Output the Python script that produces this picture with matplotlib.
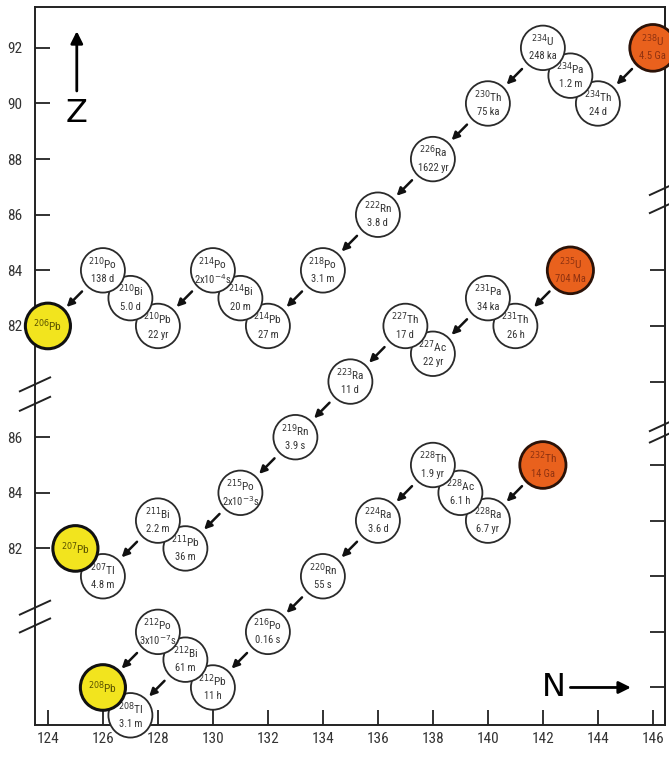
import numpy as np
import matplotlib
matplotlib.use('Agg')
import matplotlib.pyplot as plt
from matplotlib.patches import Circle

plt.rcParams['font.family'] = ['Liberation Sans Narrow', 'Roboto Condensed', 'Roboto', 'DejaVu Sans']

# U-238 chain (parent first, stable end member last)
u8_mass = [238, 234, 234, 234, 230, 226, 222, 218, 214, 214, 214, 210, 210, 210, 206]
u8_sym = ['U', 'Th', 'Pa', 'U', 'Th', 'Ra', 'Rn', 'Po', 'Pb', 'Bi', 'Po', 'Pb', 'Bi', 'Po', 'Pb']
u8_Z = [92, 90, 91, 92, 90, 88, 86, 84, 82, 83, 84, 82, 83, 84, 82]
u8_half = ['4.5 Ga', '24 d', '1.2 m', '248 ka', '75 ka', '1622 yr', '3.8 d', '3.1 m',
           '27 m', '20 m', r'2x10$^{-4}$s', '22 yr', '5.0 d', '138 d', '']
u8_alpha = [(238, 92), (234, 92), (230, 90), (226, 88), (222, 86), (218, 84), (214, 84), (210, 84)]

# U-235 chain
u5_mass = [235, 231, 231, 227, 227, 223, 219, 215, 211, 211, 207, 207]
u5_sym = ['U', 'Th', 'Pa', 'Ac', 'Th', 'Ra', 'Rn', 'Po', 'Pb', 'Bi', 'Tl', 'Pb']
u5_Z = [92, 90, 91, 89, 90, 88, 86, 84, 82, 83, 81, 82]
u5_half = ['704 Ma', '26 h', '34 ka', '22 yr', '17 d', '11 d', '3.9 s', r'2x10$^{-3}$s',
           '36 m', '2.2 m', '4.8 m', '']
u5_alpha = [(235, 92), (231, 91), (227, 90), (223, 88), (219, 86), (215, 84), (211, 83)]

# Th-232 chain
th_mass = [232, 228, 228, 228, 224, 220, 216, 212, 212, 212, 208, 208]
th_sym = ['Th', 'Ra', 'Ac', 'Th', 'Ra', 'Rn', 'Po', 'Pb', 'Bi', 'Po', 'Tl', 'Pb']
th_Z = [90, 88, 89, 90, 88, 86, 84, 82, 83, 84, 81, 82]
th_half = ['14 Ga', '6.7 yr', '6.1 h', '1.9 yr', '3.6 d', '55 s', '0.16 s', '11 h',
           '61 m', r'3x10$^{-7}$s', '3.1 m', '']
th_alpha = [(232, 90), (228, 90), (224, 88), (220, 86), (216, 84), (212, 84), (212, 83)]

# vertical shift of each chain in the stacked plot (in Z units)
shift = [0, 8, 13]

ytick_pos = [92, 90, 88, 86, 84, 82, 78, 76, 74]
ytick_lab = ['92', '90', '88', '86', '84', '82', '86', '84', '82']
right_ticks = [84, 82, 80, 77, 75, 73, 71, 69]

fig = plt.figure(figsize=(6.69, 7.58), dpi=100)
ax = fig.add_axes([0.0523, 0.0435, 0.9417, 0.9473])
ax.set_xlim(123.53, 146.44)
ax.set_ylim(67.65, 93.47)

chains = [(u8_mass, u8_sym, u8_Z, u8_half, u8_alpha),
          (u5_mass, u5_sym, u5_Z, u5_half, u5_alpha),
          (th_mass, th_sym, th_Z, th_half, th_alpha)]

for (mass, sym, Z, half, alpha), off in zip(chains, shift):
    N = np.array(mass) - np.array(Z)
    Y = np.array(Z) - off
    last = len(mass) - 1
    for i in np.argsort(-N, kind='stable'):
        if i == 0:
            fc, ec, lw, r, tc = '#E9611D', '#2b1208', 2.0, 0.84, '#8f3210'
        elif i == last:
            fc, ec, lw, r, tc = '#F2E41E', '#111111', 2.2, 0.82, '#5a5200'
        else:
            fc, ec, lw, r, tc = 'white', '#2a2a2a', 1.3, 0.80, '#333333'
        z = 4 + (150 - N[i]) * 0.01 + i * 0.0001
        ax.add_patch(Circle((N[i], Y[i]), r, facecolor=fc, edgecolor=ec, lw=lw,
                            zorder=z, clip_on=False))
        lab = r'$^{%d}$%s' % (mass[i], sym[i])
        if half[i]:
            ax.text(N[i], Y[i] + 0.25, lab, ha='center', va='center', fontsize=8.2,
                    color=tc, zorder=z + 0.001, clip_on=False)
            ax.text(N[i], Y[i] - 0.31, half[i], ha='center', va='center', fontsize=7.6,
                    color=tc, zorder=z + 0.001, clip_on=False)
        else:
            ax.text(N[i], Y[i], lab, ha='center', va='center', fontsize=8.2,
                    color=tc, zorder=z + 0.001, clip_on=False)
    for m, zp in alpha:
        n0, y0 = m - zp, zp - off
        ax.annotate('', xy=(n0 - 2 + 0.68, y0 - 2 + 0.68), xytext=(n0 - 0.76, y0 - 0.76),
                    arrowprops=dict(arrowstyle='-|>', color='#111111', lw=1.8,
                                    mutation_scale=11, shrinkA=0, shrinkB=0),
                    annotation_clip=False, zorder=6)

# axis breaks
for xc, yc in [(123.53, 79.9), (123.53, 79.2), (123.53, 71.87), (123.53, 71.23),
               (146.44, 86.96), (146.44, 86.31), (146.44, 78.47), (146.44, 78.06)]:
    ax.plot([xc - 0.55, xc + 0.55], [yc - 0.25, yc + 0.25], color='#222222', lw=1.4,
            clip_on=False, zorder=7)

# Z and N direction arrows
ax.annotate('', xy=(125.05, 92.6), xytext=(125.05, 90.45),
            arrowprops=dict(arrowstyle='-|>', color='black', lw=2, mutation_scale=18,
                            shrinkA=0, shrinkB=0))
ax.text(125.05, 89.65, 'Z', ha='center', va='center', fontsize=23, family='DejaVu Sans')
ax.text(142.4, 69.0, 'N', ha='center', va='center', fontsize=23, family='DejaVu Sans')
ax.annotate('', xy=(145.2, 69.0), xytext=(143.0, 69.0),
            arrowprops=dict(arrowstyle='-|>', color='black', lw=2, mutation_scale=18,
                            shrinkA=0, shrinkB=0))

ax.set_xticks(range(124, 147, 2))
ax.set_yticks(ytick_pos)
ax.set_yticklabels(ytick_lab)
ax.tick_params(direction='in', length=11, width=1.3, labelsize=11, colors='#222222',
               labelcolor='#333333', pad=5)
ax.tick_params(axis='y', pad=9)
for s in ax.spines.values():
    s.set_linewidth(1.4)
    s.set_color('#222222')

sec = ax.secondary_yaxis('right')
sec.set_yticks(right_ticks)
sec.tick_params(direction='in', length=11, width=1.3, labelright=False, colors='#222222')
sec.spines['right'].set_linewidth(1.4)

fig.savefig('out.png', dpi=100)
